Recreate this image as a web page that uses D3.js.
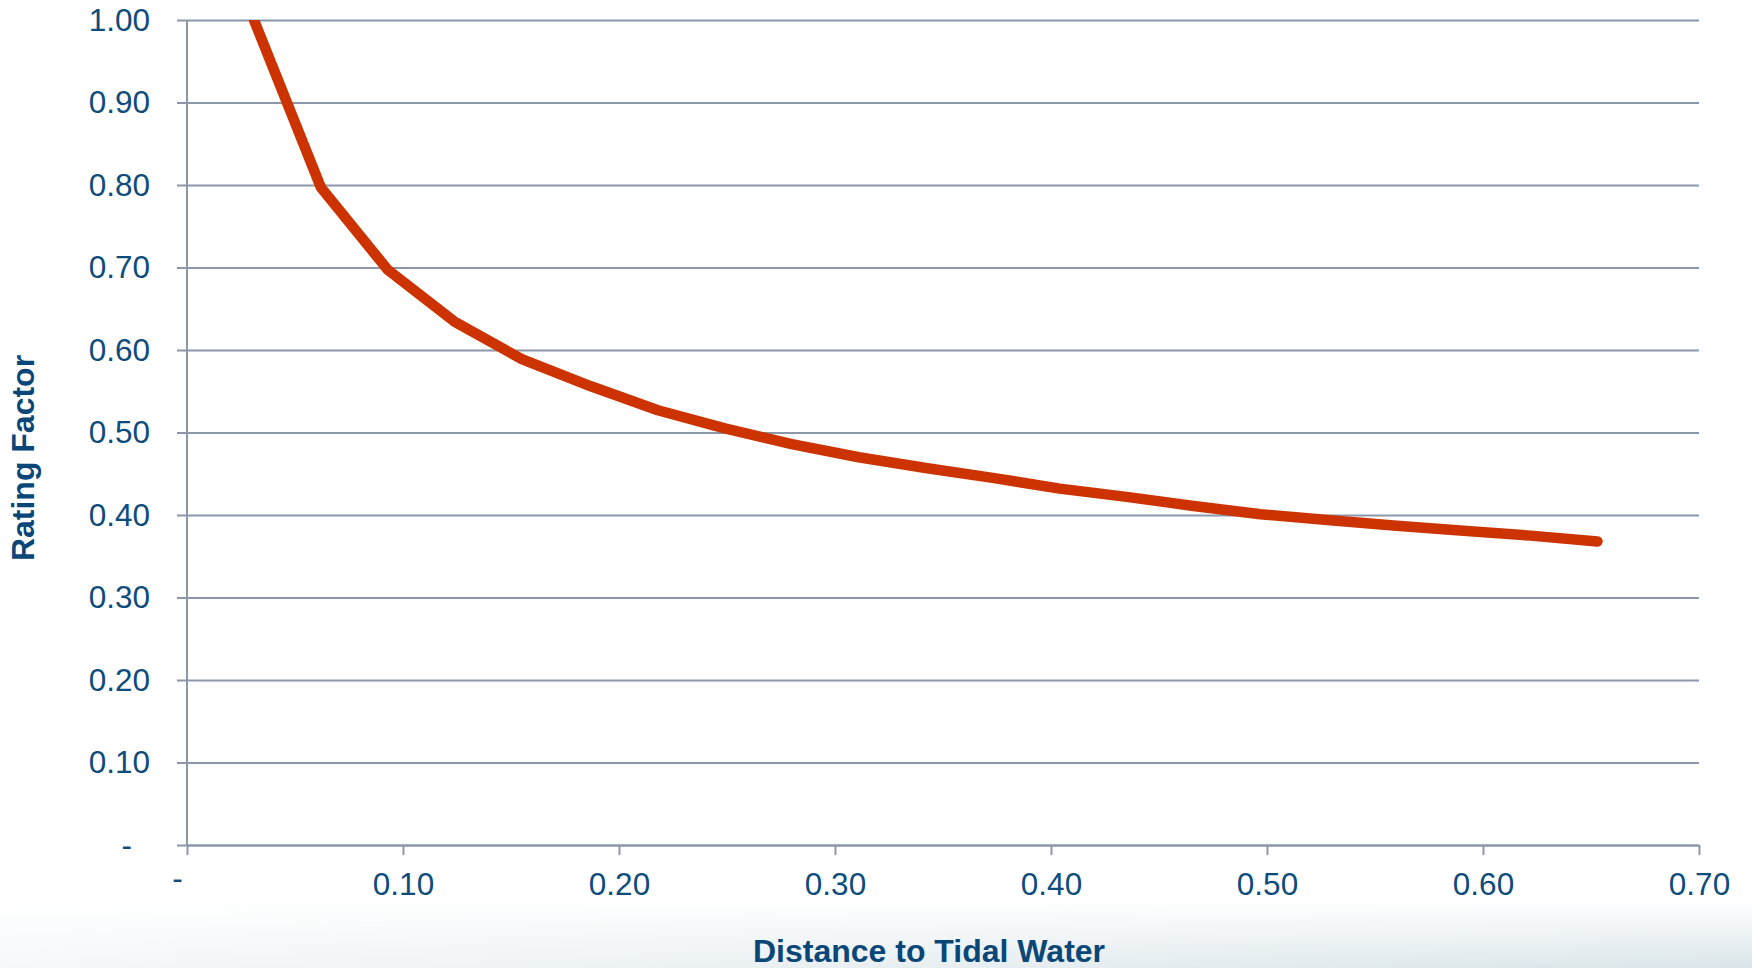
<!DOCTYPE html>
<html>
<head>
<meta charset="utf-8">
<script src="https://cdn.jsdelivr.net/npm/d3@7"></script>
<style>
  body { margin: 0; background: #fff; }
  svg { display: block; font-family: "Liberation Sans", Arial, sans-serif; }
  .tick text { fill: #0e4c7d; font-size: 31.5px; }
  .axisTitle { fill: #0a4778; font-size: 32px; font-weight: bold; }
</style>
</head>
<body>
<div id="chart"></div>
<script>
// Distance to tidal water (x) and rating factor (y)
var distance = [0.031, 0.062, 0.093, 0.124, 0.155, 0.187, 0.218, 0.249, 0.280, 0.311,
    0.342, 0.373, 0.404, 0.435, 0.466, 0.497, 0.528, 0.560, 0.591, 0.622, 0.653];
var ratingFactor = [1.00, 0.797, 0.697, 0.634, 0.589, 0.556, 0.527, 0.505, 0.486, 0.470,
    0.457, 0.445, 0.432, 0.422, 0.411, 0.401, 0.394, 0.387, 0.381, 0.375, 0.368];

var xTicks = [0, 0.1, 0.2, 0.3, 0.4, 0.5, 0.6, 0.7];
var yTicks = [0, 0.1, 0.2, 0.3, 0.4, 0.5, 0.6, 0.7, 0.8, 0.9, 1.0];

var svgWidth = 1752;
var svgHeight = 968;

var margin = { top: 20, right: 53, bottom: 123, left: 187 };
var chartWidth = svgWidth - margin.left - margin.right;
var chartHeight = svgHeight - margin.top - margin.bottom;

var svg = d3.select("#chart")
    .append("svg")
    .attr("width", svgWidth)
    .attr("height", svgHeight);

// soft slide background at the bottom
var defs = svg.append("defs");
var grad = defs.append("linearGradient")
    .attr("id", "bottomFade")
    .attr("x1", 0).attr("y1", 0).attr("x2", 0).attr("y2", 1);
grad.append("stop").attr("offset", "0%").attr("stop-color", "#ffffff");
grad.append("stop").attr("offset", "100%").attr("stop-color", "#dae5e9");
var gradH = defs.append("linearGradient")
    .attr("id", "sideFade")
    .attr("x1", 0).attr("y1", 0).attr("x2", 1).attr("y2", 0);
gradH.append("stop").attr("offset", "0%").attr("stop-color", "#ffffff").attr("stop-opacity", 0.75);
gradH.append("stop").attr("offset", "100%").attr("stop-color", "#ffffff").attr("stop-opacity", 0);

svg.append("rect")
    .attr("x", 0).attr("y", 900)
    .attr("width", svgWidth).attr("height", svgHeight - 900)
    .attr("fill", "url(#bottomFade)");
svg.append("rect")
    .attr("x", 0).attr("y", 900)
    .attr("width", svgWidth).attr("height", svgHeight - 900)
    .attr("fill", "url(#sideFade)");

defs.append("clipPath")
    .attr("id", "plotClip")
    .append("rect")
    .attr("x", -20).attr("y", 0)
    .attr("width", chartWidth + 40).attr("height", chartHeight + 20);

var chartGroup = svg.append("g")
    .attr("transform", `translate(${margin.left}, ${margin.top})`);

var xScale = d3.scaleLinear().domain([0, 0.7]).range([0, chartWidth]);
var yScale = d3.scaleLinear().domain([0, 1]).range([chartHeight, 0]);

var fmt = d => d === 0 ? "-" : d3.format(".2f")(d);

// y axis with gridlines
var yAxis = d3.axisLeft(yScale)
    .tickValues(yTicks)
    .tickFormat(fmt)
    .tickSize(-chartWidth)
    .tickSizeOuter(0)
    .tickPadding(37);

var yG = chartGroup.append("g").call(yAxis);
yG.select(".domain").remove();
yG.selectAll(".tick line")
    .attr("x1", -10)
    .attr("stroke", "#8c97aa")
    .attr("stroke-width", 2);
yG.selectAll(".tick text").filter(d => d === 0).attr("dx", -18);

// vertical axis line
chartGroup.append("line")
    .attr("x1", 0).attr("x2", 0)
    .attr("y1", 0).attr("y2", chartHeight)
    .attr("stroke", "#8c97aa")
    .attr("stroke-width", 2);

// x axis
var xAxis = d3.axisBottom(xScale)
    .tickValues(xTicks)
    .tickFormat(fmt)
    .tickSize(10)
    .tickSizeOuter(0)
    .tickPadding(18);

var xG = chartGroup.append("g")
    .attr("transform", `translate(0, ${chartHeight})`)
    .call(xAxis);
xG.select(".domain").attr("stroke", "#8c97aa").attr("stroke-width", 2);
xG.selectAll(".tick line").attr("stroke", "#8c97aa").attr("stroke-width", 2);
xG.selectAll(".tick text").filter(d => d === 0).attr("dx", -10).attr("dy", "0.5em");

// the curve
var line = d3.line()
    .x((d, i) => xScale(distance[i]))
    .y(d => yScale(d));

chartGroup.append("path")
    .datum(ratingFactor)
    .attr("clip-path", "url(#plotClip)")
    .attr("d", line)
    .attr("fill", "none")
    .attr("stroke", "#cc3300")
    .attr("stroke-width", 10.5)
    .attr("stroke-linejoin", "round")
    .attr("stroke-linecap", "round");

// axis titles
svg.append("text")
    .attr("class", "axisTitle")
    .attr("x", 929)
    .attr("y", 962)
    .attr("text-anchor", "middle")
    .text("Distance to Tidal Water");

svg.append("text")
    .attr("class", "axisTitle")
    .attr("transform", "translate(34, 458) rotate(-90)")
    .attr("text-anchor", "middle")
    .text("Rating Factor");
</script>
</body>
</html>
